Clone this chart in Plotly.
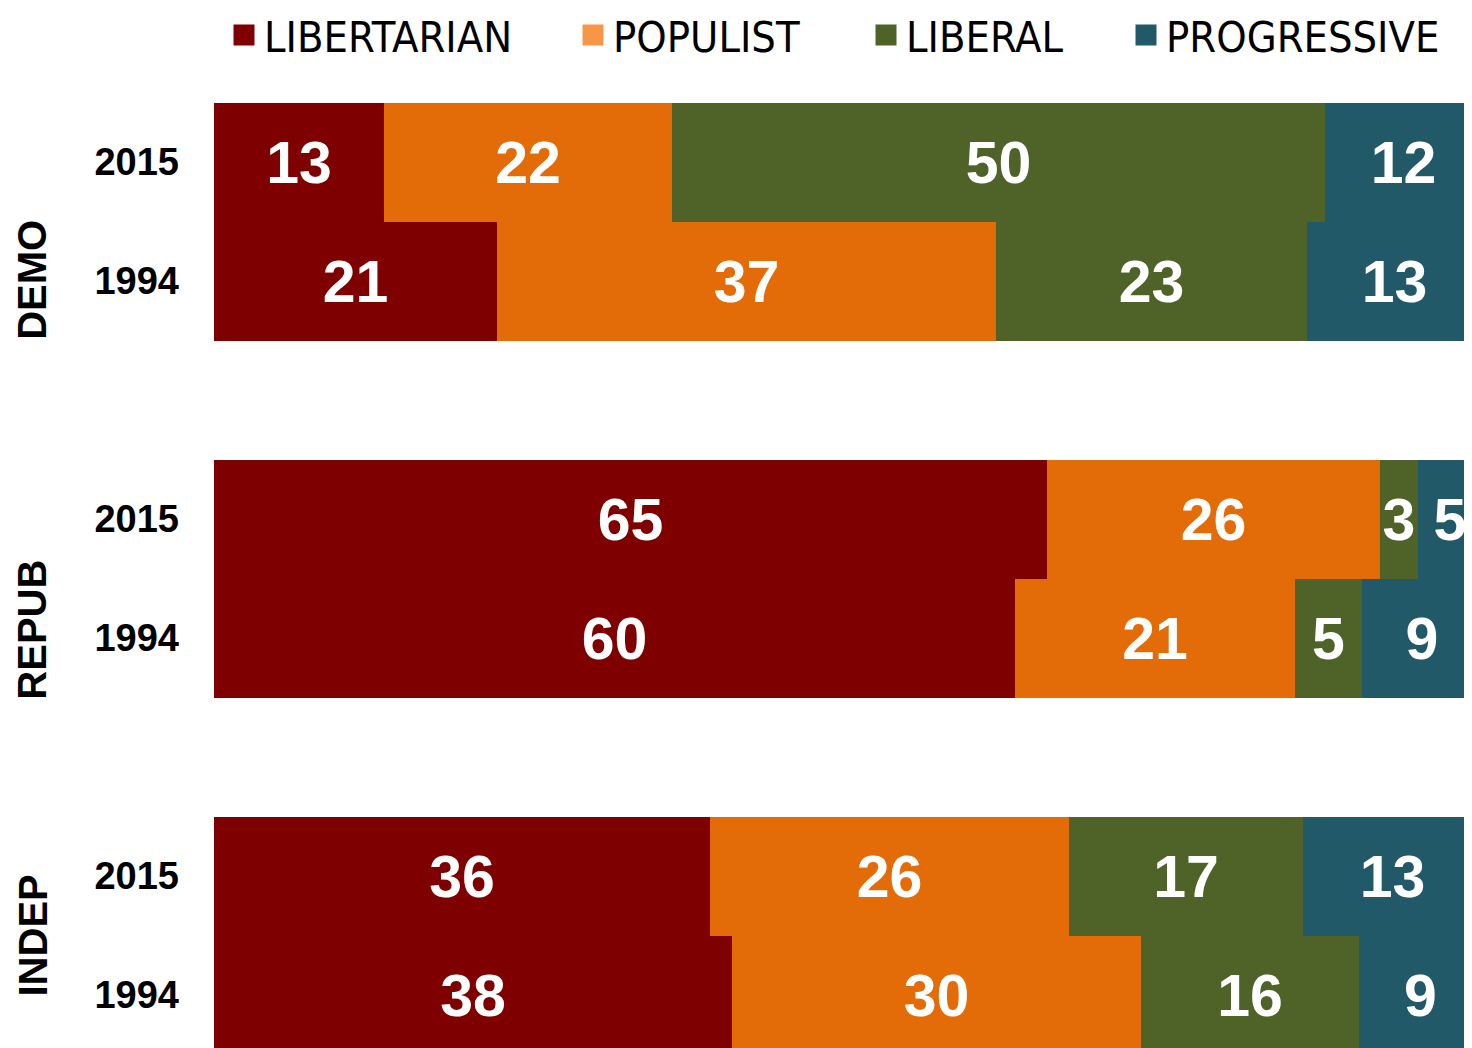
import plotly.graph_objects as go

# ---- data ----
groups = ["DEMO", "REPUB", "INDEP"]
row_pos = [0, 1, 3, 4, 6, 7]  # DEMO 2015, DEMO 1994, REPUB 2015, REPUB 1994, INDEP 2015, INDEP 1994
row_labels = ["2015", "1994", "2015", "1994", "2015", "1994"]

libertarian = [13, 21, 65, 60, 36, 38]
populist = [22, 37, 26, 21, 26, 30]
liberal = [50, 23, 3, 5, 17, 16]
progressive = [12, 13, 5, 9, 13, 9]

series_names = ["LIBERTARIAN", "POPULIST", "LIBERAL", "PROGRESSIVE"]
series_values = [libertarian, populist, liberal, progressive]
series_colors = ["#7F0000", "#E36C09", "#4F6228", "#215968"]
legend_colors = ["#7F0000", "#F79646", "#4F6228", "#215968"]

group_label_pos = [0.99, 3.93, 6.5]

# ---- layout constants (page body has an 8px margin) ----
OFF = 8
W, H = 1472 - OFF, 1048 - OFF
ML = 214 - OFF
plot_w = W - ML
legend_text_px = [264 - OFF, 613 - OFF, 906 - OFF, 1166 - OFF]
legend_keys = ["legend", "legend2", "legend3", "legend4"]

fig = go.Figure()
for name, vals, col in zip(series_names, series_values, series_colors):
    fig.add_trace(go.Bar(
        y=row_pos, x=vals, orientation="h", name=name,
        marker=dict(color=col, line=dict(width=0)),
        text=[str(v) for v in vals], textposition="inside",
        insidetextanchor="middle", constraintext="none",
        textfont=dict(family="Liberation Sans, Arial, sans-serif", size=59, color="white", weight="bold"),
        showlegend=False, hoverinfo="skip",
    ))

# legend-only entries (large square keys)
for name, col, lk in zip(series_names, legend_colors, legend_keys):
    fig.add_trace(go.Scatter(
        x=[None], y=[None], mode="markers", name=name,
        marker=dict(symbol="square", size=16, color=col, line=dict(width=5, color=col)),
        legend=lk, showlegend=True, hoverinfo="skip",
    ))

legend_common = dict(
    orientation="h", xanchor="left", yanchor="middle", y=1 - 27 / H,
    font=dict(family="DejaVu Sans Condensed, Liberation Sans Narrow, sans-serif", size=43, color="black"),
    bgcolor="rgba(0,0,0,0)", borderwidth=0, itemclick=False, itemdoubleclick=False,
    itemsizing="trace",
)
layout_legends = {}
for lk, tx in zip(legend_keys, legend_text_px):
    layout_legends[lk] = dict(legend_common, x=(tx - 40 - ML) / plot_w)

annotations = [
    dict(text=g, x=(32 - OFF - ML) / plot_w, xref="paper", y=p, yref="y",
         textangle=-90, showarrow=False, xanchor="center", yanchor="middle",
         font=dict(family="Liberation Sans, Arial, sans-serif", size=40, color="black", weight="bold"))
    for g, p in zip(groups, group_label_pos)
]

unit = 119.0
y_center0 = 162.0 - OFF
fig.update_layout(
    width=W, height=H,
    margin=dict(l=ML, r=0, t=0, b=0, autoexpand=False),
    paper_bgcolor="white", plot_bgcolor="white",
    barmode="stack", barnorm="percent", bargap=0,
    xaxis=dict(range=[0, 100 * plot_w / 1268.0], showgrid=False, zeroline=False,
               showticklabels=False, showline=False, fixedrange=True, automargin=False),
    yaxis=dict(range=[(H - y_center0) / unit, -y_center0 / unit], tickmode="array",
               tickvals=row_pos, ticktext=row_labels, showgrid=False, zeroline=False,
               showline=False, ticks="", ticklabelstandoff=34, fixedrange=True, automargin=False,
               tickfont=dict(family="Liberation Sans, Arial, sans-serif", size=38, color="black", weight="bold")),
    annotations=annotations,
    showlegend=True,
    **layout_legends,
)

fig.write_html("out.html")
